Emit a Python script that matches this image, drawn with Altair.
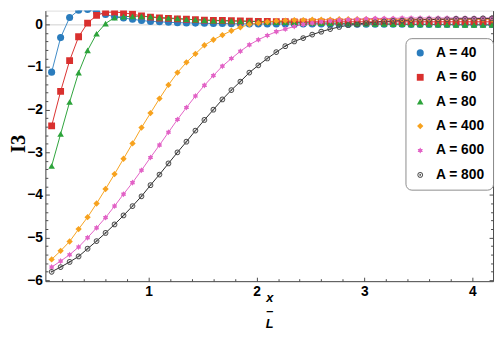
import altair as alt
import pandas as pd

# ---------------- data ----------------
xs = [0.1, 0.1833, 0.2667, 0.35, 0.4333, 0.5167, 0.6, 0.6833, 0.7667, 0.85,
      0.9333, 1.0167, 1.1, 1.1833, 1.2667, 1.35, 1.4333, 1.5167, 1.6, 1.6833,
      1.7667, 1.85, 1.9333, 2.0167, 2.1, 2.1833, 2.2667, 2.35, 2.4333, 2.5167,
      2.6, 2.6833, 2.7667, 2.85, 2.9333, 3.0167, 3.1, 3.1833, 3.2667, 3.35,
      3.4333, 3.5167, 3.6, 3.6833, 3.7667, 3.85, 3.9333, 4.0167, 4.1, 4.1833]

a40 = [-1.12, -0.31, 0.16, 0.33, 0.35, 0.29, 0.23, 0.18, 0.15, 0.12,
       0.09, 0.07, 0.06, 0.05, 0.04, 0.035, 0.03, 0.025, 0.02, 0.02,
       0.015, 0.015, 0.01, 0.01, 0.01, 0.01, 0.01, 0.01, 0.01, 0.01,
       0.01, 0.005, 0.005, 0.005, 0.005, 0.005, 0.005, 0.005, 0.005, 0.005,
       0.0, 0.0, 0.0, 0.0, 0.0, 0.0, 0.0, 0.0, 0.0, 0.0]

a60 = [-2.38, -1.57, -0.85, -0.29, 0.03, 0.21, 0.28, 0.29, 0.27, 0.24,
       0.20, 0.17, 0.15, 0.14, 0.13, 0.12, 0.11, 0.10, 0.095, 0.09,
       0.085, 0.08, 0.075, 0.07, 0.07, 0.065, 0.065, 0.06, 0.06, 0.06,
       0.06, 0.06, 0.06, 0.06, 0.06, 0.06, 0.06, 0.06, 0.06, 0.06,
       0.06, 0.06, 0.06, 0.06, 0.06, 0.06, 0.06, 0.06, 0.06, 0.06]

a80 = [-3.32, -2.57, -1.82, -1.13, -0.61, -0.22, 0.02, 0.16, 0.18, 0.19,
       0.19, 0.18, 0.16, 0.15, 0.14, 0.12, 0.11, 0.10, 0.09, 0.085,
       0.08, 0.075, 0.07, 0.065, 0.06, 0.055, 0.05, 0.045, 0.04, 0.035,
       0.03, 0.03, 0.025, 0.02, 0.02, 0.015, 0.01, 0.01, 0.005, 0.005,
       0.0, 0.0, 0.0, -0.005, -0.005, -0.01, -0.01, -0.01, -0.015, -0.015]

a400 = [-5.51, -5.31, -5.09, -4.80, -4.52, -4.20, -3.86, -3.51, -3.15, -2.79,
        -2.42, -2.08, -1.74, -1.42, -1.13, -0.89, -0.69, -0.49, -0.36, -0.25,
        -0.15, -0.07, 0.0, 0.03, 0.06, 0.08, 0.09, 0.10, 0.10, 0.11,
        0.11, 0.11, 0.12, 0.12, 0.12, 0.12, 0.12, 0.12, 0.12, 0.12,
        0.12, 0.12, 0.12, 0.12, 0.12, 0.12, 0.12, 0.12, 0.12, 0.12]

a600 = [-5.69, -5.55, -5.40, -5.22, -5.00, -4.77, -4.53, -4.26, -3.98, -3.71,
        -3.42, -3.12, -2.83, -2.53, -2.23, -1.95, -1.68, -1.43, -1.20, -0.98,
        -0.80, -0.63, -0.48, -0.36, -0.26, -0.17, -0.11, -0.05, 0.0, 0.03,
        0.06, 0.08, 0.10, 0.11, 0.12, 0.13, 0.14, 0.14, 0.14, 0.15,
        0.15, 0.15, 0.15, 0.15, 0.15, 0.15, 0.15, 0.15, 0.15, 0.15]

a800 = [-5.80, -5.69, -5.57, -5.44, -5.26, -5.08, -4.89, -4.69, -4.48, -4.26,
        -4.03, -3.77, -3.52, -3.26, -3.00, -2.75, -2.49, -2.24, -2.00, -1.76,
        -1.54, -1.34, -1.13, -0.96, -0.80, -0.65, -0.51, -0.40, -0.32, -0.24,
        -0.17, -0.11, -0.06, -0.02, 0.0, 0.03, 0.05, 0.07, 0.08, 0.09,
        0.10, 0.11, 0.11, 0.12, 0.12, 0.13, 0.13, 0.13, 0.14, 0.14]

a_values = ["40", "60", "80", "400", "600", "800"]
series_names = ["A = " + a for a in a_values]
series_values = [a40, a60, a80, a400, a600, a800]

x_major = [1, 2, 3, 4]
x_minor = [0.2, 0.4, 0.6, 0.8, 1.2, 1.4, 1.6, 1.8, 2.2, 2.4, 2.6, 2.8,
           3.2, 3.4, 3.6, 3.8]
y_major = [-6, -5, -4, -3, -2, -1, 0]
y_minor = [-5.8, -5.6, -5.4, -5.2, -4.8, -4.6, -4.4, -4.2, -3.8, -3.6, -3.4,
           -3.2, -2.8, -2.6, -2.4, -2.2, -1.8, -1.6, -1.4, -1.2, -0.8, -0.6,
           -0.4, -0.2, 0.2]

# ---------------- styles ----------------
marker_colors = ["#2a7cbd", "#d9302e", "#2ca33a", "#f7a21e", "#e262c6", "#505050"]
line_colors = ["#3d8ac6", "#d9302e", "#2ca33a", "#f7a21e", "#e262c6", "#2b2b2b"]
STAR = ("M0,-1L0.3,-0.52L0.866,-0.5L0.6,0L0.866,0.5L0.3,0.52L0,1"
        "L-0.3,0.52L-0.866,0.5L-0.6,0L-0.866,-0.5L-0.3,-0.52Z")
RING = ("M-1,0A1,1,0,1,0,1,0A1,1,0,1,0,-1,0Z"
        "M-0.66,0A0.66,0.66,0,1,1,0.66,0A0.66,0.66,0,1,1,-0.66,0Z"
        "M-0.32,0A0.32,0.32,0,1,0,0.32,0A0.32,0.32,0,1,0,-0.32,0Z")
shapes = ["circle", "square", "triangle-up", "diamond", STAR, RING]
sizes = [52, 34, 46, 44, 100, 72]

rows = []
for a, name, vals in zip(a_values, series_names, series_values):
    for xv, yv in zip(xs, vals):
        rows.append({"x": xv, "y": yv, "series": name, "A": a})
df = pd.DataFrame(rows)

W, H = 455, 275
FONT = "Liberation Sans"
FRAME = "#4a4a4a"
xsc = alt.Scale(domain=[0.042, 4.193], nice=False, zero=False)
ysc = alt.Scale(domain=[-6.02, 0.323], nice=False, zero=False)

base = alt.Chart(df)


def axis_layer(xaxis, yaxis):
    return base.mark_point(opacity=0).encode(
        x=alt.X("x:Q", scale=xsc, axis=xaxis),
        y=alt.Y("y:Q", scale=ysc, axis=yaxis),
    )


# main labelled axes (left / bottom)
layer_main = axis_layer(
    alt.Axis(orient="bottom", values=x_major, format="d", ticks=False,
             grid=False, domain=True, domainColor=FRAME, domainWidth=1,
             labelFont=FONT, labelFontSize=14, labelFontWeight="bold",
             labelColor="black", labelPadding=4, labelFlush=False,
             labelOverlap=False,
             title=["x", "\u2013", "L"], titleFont=FONT, titleFontSize=13,
             titleFontStyle="italic", titleFontWeight="bold",
             titleLineHeight=13, titleBaseline="top", titleY=11,
             titleColor="black"),
    alt.Axis(orient="left", values=y_major, format="d", ticks=False,
             grid=False, domain=True, domainColor=FRAME, domainWidth=1,
             labelFont=FONT, labelFontSize=14, labelFontWeight="bold",
             labelColor="black", labelPadding=3, labelFlush=False,
             labelOverlap=False,
             title="I3", titleFont="Liberation Serif", titleFontSize=21,
             titleFontWeight="bold", titleAngle=270, titleX=-27, titleY=135,
             titleAlign="center", titleBaseline="middle", titleColor="black"),
)

# inward major ticks on left / bottom frame
layer_major = axis_layer(
    alt.Axis(orient="top", offset=-H, values=x_major, labels=False,
             domain=False, tickSize=4, tickColor=FRAME, grid=False, title=None),
    alt.Axis(orient="right", offset=-W, values=y_major, labels=False,
             domain=False, tickSize=4, tickColor=FRAME, grid=False, title=None),
)
# inward minor ticks on left / bottom frame
layer_minor = axis_layer(
    alt.Axis(orient="top", offset=-H, values=x_minor, labels=False,
             domain=False, tickSize=2.5, tickColor=FRAME, grid=False,
             title=None),
    alt.Axis(orient="right", offset=-W, values=y_minor, labels=False,
             domain=False, tickSize=2.5, tickColor=FRAME, grid=False,
             title=None),
)
# right frame with inward ticks
layer_right = axis_layer(
    None,
    alt.Axis(orient="left", offset=-W, values=y_major, labels=False,
             domain=True, domainColor=FRAME, domainWidth=1, tickSize=4,
             tickColor=FRAME, grid=False, title=None),
)
layer_right_minor = axis_layer(
    None,
    alt.Axis(orient="left", offset=-W, values=y_minor, labels=False,
             domain=False, tickSize=2.5, tickColor=FRAME, grid=False,
             title=None),
)
# light zero line
layer_zero = axis_layer(
    None,
    alt.Axis(orient="left", values=[0], labels=False, domain=False,
             ticks=False, grid=True, gridColor="#cfcfcf", gridWidth=1,
             title=None),
)

color_scale = alt.Scale(domain=series_names, range=marker_colors)
line_scale = alt.Scale(domain=a_values, range=line_colors)
shape_scale = alt.Scale(domain=series_names, range=shapes)
size_scale = alt.Scale(domain=series_names, range=sizes)

legend = alt.Legend(orient="none", legendX=366, legendY=28, title=None,
                    labelFont=FONT, labelFontSize=14, labelFontWeight="bold",
                    labelColor="black", strokeColor="#8c8c8c",
                    cornerRadius=6, padding=8, rowPadding=10.8,
                    labelOffset=9, fillColor="white")

lines = base.mark_line(strokeWidth=1, clip=True).encode(
    x=alt.X("x:Q", scale=xsc, axis=None),
    y=alt.Y("y:Q", scale=ysc, axis=None),
    stroke=alt.Stroke("A:N", scale=line_scale, legend=None),
    detail="A:N",
)

points = base.mark_point(filled=True, opacity=1, clip=True).encode(
    x=alt.X("x:Q", scale=xsc, axis=None),
    y=alt.Y("y:Q", scale=ysc, axis=None),
    color=alt.Color("series:N", scale=color_scale, legend=legend),
    shape=alt.Shape("series:N", scale=shape_scale, legend=legend),
    size=alt.Size("series:N", scale=size_scale, legend=legend),
)

chart = alt.layer(
    layer_zero, layer_main, layer_major, layer_minor, layer_right,
    layer_right_minor, lines, points,
).resolve_axis(
    x="independent", y="independent"
).properties(
    width=W, height=H,
    autosize=alt.AutoSizeParams(type="none"),
    padding={"left": 38, "top": 0, "right": 2, "bottom": 47},
    background="white",
).configure_view(stroke=None).configure(font=FONT)

chart.save("out.html", embed_options={"renderer": "svg", "actions": False})
